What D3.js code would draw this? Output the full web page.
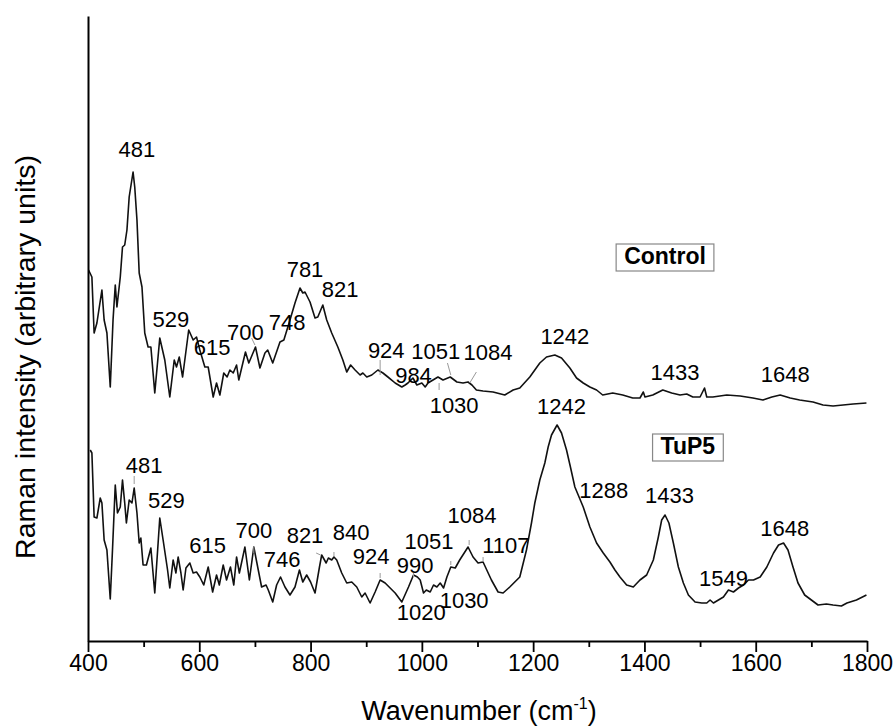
<!DOCTYPE html>
<html>
<head>
<meta charset="utf-8">
<script src="https://cdn.jsdelivr.net/npm/d3@7"></script>
<style>
  body { margin: 0; background: #fff; }
  text { font-family: "Liberation Sans", Arial, sans-serif; fill: #000; }
</style>
</head>
<body>
<div id="chart"></div>
<script>
// spectra: [wavenumber (cm-1), intensity (arb. units)]
const controlSpectrum = [
  [401,371],[407,364],[411,308],[416,318],[425,351],[429,321],[434,308],[440,254],[445,321],[449,356],
  [452,334],[458,364],[462,394],[466,396],[470,411],[474,444],[481,469],[484,454],[488,421],[492,368],
  [497,354],[502,308],[508,294],[513,294],[520,248],[529,303],[538,281],[547,244],[555,281],[559,274],
  [564,284],[570,264],[581,311],[589,301],[595,304],[601,291],[610,274],[616,274],[625,244],[631,258],
  [637,246],[644,268],[650,264],[655,271],[661,268],[667,276],[671,261],[683,289],[689,278],[701,294],
  [709,273],[718,288],[723,291],[732,278],[745,299],[752,301],[763,321],[772,338],[781,353],[786,348],
  [790,349],[799,339],[808,323],[813,324],[822,336],[829,321],[838,308],[849,294],[858,281],[865,269],
  [872,276],[880,271],[889,266],[894,268],[901,264],[910,266],[921,271],[930,268],[939,264],[952,258],
  [964,254],[970,256],[975,258],[984,263],[991,256],[1000,258],[1006,254],[1011,258],[1020,261],[1029,264],
  [1038,261],[1051,264],[1063,259],[1074,258],[1083,259],[1090,256],[1098,251],[1110,250],[1128,249],[1149,246],
  [1164,251],[1176,253],[1194,264],[1212,278],[1224,284],[1239,286],[1251,283],[1266,273],[1278,263],[1290,258],
  [1302,254],[1314,251],[1325,246],[1343,248],[1361,246],[1379,243],[1392,243],[1398,249],[1401,244],[1415,246],
  [1433,251],[1449,248],[1464,246],[1476,247],[1487,244],[1500,244],[1508,253],[1512,244],[1523,244],[1548,246],
  [1572,245],[1595,243],[1613,241],[1629,244],[1644,246],[1662,243],[1679,241],[1703,239],[1721,236],[1739,235],
  [1757,236],[1775,237],[1799,238]
];

const tup5Spectrum = [
  [404,191],[407,188],[411,124],[416,123],[422,143],[425,138],[429,101],[434,91],[440,42],[444,91],
  [449,156],[453,128],[458,134],[462,161],[466,138],[469,118],[474,141],[479,138],[483,153],[488,128],
  [492,98],[495,103],[499,76],[505,76],[513,93],[520,48],[529,123],[535,101],[543,71],[547,53],
  [553,81],[558,68],[562,84],[567,68],[571,51],[576,73],[583,78],[589,68],[595,69],[601,64],
  [608,56],[616,74],[624,49],[631,66],[636,56],[643,76],[649,61],[656,74],[662,56],[667,84],
  [672,68],[682,94],[690,61],[698,94],[706,71],[712,54],[720,56],[724,51],[732,39],[739,56],
  [746,64],[754,54],[763,46],[772,54],[780,71],[786,59],[793,66],[800,59],[808,48],[816,74],
  [820,86],[828,78],[832,83],[838,81],[842,84],[847,81],[856,68],[865,58],[874,59],[883,54],
  [892,44],[898,48],[907,38],[916,49],[925,61],[934,58],[943,53],[952,48],[964,39],[976,54],
  [985,66],[992,64],[997,61],[1003,48],[1008,51],[1015,49],[1021,56],[1027,54],[1033,58],[1039,53],
  [1045,64],[1052,74],[1060,73],[1068,81],[1083,94],[1092,84],[1101,78],[1110,79],[1125,61],[1137,49],
  [1146,48],[1158,54],[1176,64],[1188,91],[1197,118],[1203,138],[1212,161],[1221,178],[1227,194],[1233,206],
  [1243,216],[1251,208],[1260,191],[1267,174],[1275,154],[1281,146],[1290,134],[1302,114],[1314,98],[1326,88],
  [1338,79],[1347,71],[1356,64],[1368,56],[1380,54],[1392,61],[1404,66],[1416,81],[1425,104],[1431,121],
  [1437,126],[1444,118],[1452,98],[1461,74],[1470,58],[1479,46],[1491,39],[1503,38],[1512,38],[1518,41],
  [1524,38],[1533,41],[1542,44],[1551,51],[1560,49],[1569,53],[1578,56],[1587,61],[1596,61],[1608,64],
  [1620,74],[1632,88],[1641,96],[1650,98],[1658,91],[1667,74],[1676,58],[1688,46],[1700,41],[1712,36],
  [1727,37],[1739,36],[1754,35],[1764,38],[1781,41],[1799,46]
];

// peak labels: [text, wavenumber at text centre, intensity at text baseline]
const controlPeaks = [
  ["481",488,484],["529",549,314],["615",623,286],["700",683,301],["748",758,311],["781",790,364],
  ["821",853,344],["924",936,283],["984",985,258],["1051",1025,282],["1084",1119,281],["1030",1058,228],
  ["1242",1257,297],["1433",1455,261],["1648",1653,259]
];
const tup5Peaks = [
  ["481",501,168],["529",541,133],["615",615,88],["700",698,103],["746",749,74],["821",790,98],
  ["840",873,101],["924",909,77],["990",988,68],["1051",1013,92],["1084",1090,118],["1020",999,21],
  ["1030",1076,33],["1107",1151,88],["1242",1251,227],["1288",1327,143],["1433",1445,138],
  ["1549",1542,55],["1648",1652,105]
];

// small grey leader lines: [wn start, int start, wn end, int end]
const controlLeaders = [
  [694,303,700,296],[925,281,925,266],[1046,278,1052,266],[1098,269,1086,258],[1031,258,1031,251]
];
const tup5Leaders = [
  [483,165,483,157],[698,94,698,88],[810,88,818,86],[842,89,842,85],[925,68,925,63],
  [985,68,985,64],[1052,80,1052,76],[1085,101,1085,96],[1110,84,1110,79]
];

// sample name boxes: [text, wavenumber at centre, intensity at baseline]
const sampleNames = [["Control",1437,377],["TuP5",1478,187]];

const majorTicks = [400,600,800,1000,1200,1400,1600,1800];
const minorTicks = [500,700,900,1100,1300,1500,1700];

const width = 896, height = 727;
const margin = {left: 88, top: 16, right: 29, bottom: 86};

const svg = d3.select('#chart').append('svg')
  .attr('width', width)
  .attr('height', height);

const x = d3.scaleLinear()
  .domain([400, 1800])
  .range([margin.left, width - margin.right]);

const y = d3.scaleLinear()
  .domain([0, 625])
  .range([height - margin.bottom, margin.top]);

const line = d3.line()
  .x(d => x(d[0]))
  .y(d => y(d[1]));

// spectra
[controlSpectrum, tup5Spectrum].forEach(s => {
  svg.append('path')
    .datum(s)
    .attr('d', line)
    .attr('fill', 'none')
    .attr('stroke', '#111')
    .attr('stroke-width', 1.6)
    .attr('stroke-linejoin', 'round');
});

// leaders
svg.append('g').selectAll('line')
  .data(controlLeaders.concat(tup5Leaders))
  .enter().append('line')
  .attr('x1', d => x(d[0])).attr('y1', d => y(d[1]))
  .attr('x2', d => x(d[2])).attr('y2', d => y(d[3]))
  .attr('stroke', '#999')
  .attr('stroke-width', 1);

// peak labels
svg.append('g').selectAll('text')
  .data(controlPeaks.concat(tup5Peaks))
  .enter().append('text')
  .attr('x', d => x(d[1]))
  .attr('y', d => y(d[2]))
  .attr('text-anchor', 'middle')
  .style('font-size', '22px')
  .text(d => d[0]);

// sample name boxes
sampleNames.forEach(d => {
  const g = svg.append('g');
  const t = g.append('text')
    .attr('x', x(d[1]))
    .attr('y', y(d[2]))
    .attr('text-anchor', 'middle')
    .style('font-size', '23px')
    .style('font-weight', 'bold')
    .text(d[0]);
  const bb = t.node().getBBox();
  g.insert('rect', 'text')
    .attr('x', bb.x - 8)
    .attr('y', bb.y + 1)
    .attr('width', bb.width + 16)
    .attr('height', bb.height + 1)
    .attr('fill', '#fff')
    .attr('stroke', '#888')
    .attr('stroke-width', 1.2);
});

// x axis, major + minor ticks
const xAxis = svg.append('g')
  .attr('transform', `translate(0,${height - margin.bottom})`)
  .call(d3.axisBottom(x).tickValues(majorTicks).tickFormat(d3.format('d'))
    .tickSize(11).tickSizeOuter(0).tickPadding(3));
svg.append('g')
  .attr('transform', `translate(0,${height - margin.bottom})`)
  .call(d3.axisBottom(x).tickValues(minorTicks).tickSize(6).tickSizeOuter(0).tickFormat(''))
  .select('.domain').remove();

svg.selectAll('.tick line').attr('stroke', '#000').attr('stroke-width', 1.8);
xAxis.select('.domain').attr('stroke', '#000').attr('stroke-width', 2);
xAxis.selectAll('.tick text')
  .style('font-family', '"Liberation Sans", Arial, sans-serif')
  .style('font-size', '23px')
  .attr('fill', '#000');

// y axis - just the line
svg.append('g')
  .attr('transform', `translate(${margin.left},0)`)
  .call(d3.axisLeft(y).tickValues([]).tickSizeOuter(0))
  .select('.domain').attr('stroke', '#000').attr('stroke-width', 2);

// titles
const xt = svg.append('text')
  .attr('x', 479)
  .attr('y', 720)
  .attr('text-anchor', 'middle')
  .style('font-size', '27px');
xt.append('tspan').text('Wavenumber (cm');
xt.append('tspan').attr('dy', -11).style('font-size', '16px').text('-1');
xt.append('tspan').attr('dy', 11).text(')');

svg.append('text')
  .attr('transform', 'translate(35,357) rotate(-90)')
  .attr('text-anchor', 'middle')
  .style('font-size', '28.5px')
  .text('Raman intensity (arbitrary units)');
</script>
</body>
</html>
